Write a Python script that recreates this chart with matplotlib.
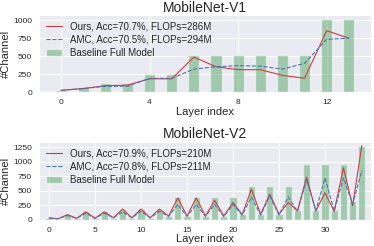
import numpy as np
import seaborn as sns
import matplotlib
matplotlib.use('Agg')
import matplotlib.pyplot as plt

# MobileNet-V1 channels per layer
v1_base = [32, 64, 128, 128, 256, 256, 512, 512, 512, 512, 512, 512, 1024, 1024]
v1_ours = [24, 48, 88, 96, 184, 184, 488, 352, 312, 312, 232, 192, 856, 752]
v1_amc = [24, 48, 80, 80, 192, 192, 320, 352, 368, 360, 320, 400, 736, 752]

# MobileNet-V2 channels per layer
v2_base = [32, 16, 96, 24, 144, 24, 144, 32, 192, 32, 192, 32, 192, 64, 384, 64, 384, 64,
           384, 64, 384, 96, 576, 96, 576, 96, 576, 160, 960, 160, 960, 160, 960, 320, 1280]
v2_ours = [32, 16, 88, 24, 136, 24, 136, 32, 184, 32, 184, 32, 184, 64, 376, 64, 376, 64,
           336, 64, 296, 88, 528, 96, 440, 96, 296, 152, 736, 152, 464, 144, 896, 240, 1280]
v2_amc = [24, 16, 72, 24, 112, 24, 112, 32, 136, 32, 144, 32, 144, 56, 264, 56, 264, 56,
          264, 56, 264, 80, 392, 80, 408, 80, 392, 144, 696, 152, 720, 152, 720, 272, 848]

sns.set_style('darkgrid')
plt.rcParams['font.family'] = ['Liberation Sans', 'DejaVu Sans']

fig = plt.figure(figsize=(3.74, 2.46), dpi=100)
ax1 = fig.add_axes([0.104, 0.626, 0.888, 0.313])
ax2 = fig.add_axes([0.104, 0.107, 0.888, 0.316])

panels = [
    (ax1, 'MobileNet-V1', v1_base, v1_ours, v1_amc, 0.5, (-1.0, 14.0),
     'Ours, Acc=70.7%, FLOPs=286M', 'AMC, Acc=70.5%, FLOPs=294M', [0, 4, 8, 12], [0, 250, 500, 750, 1000]),
    (ax2, 'MobileNet-V2', v2_base, v2_ours, v2_amc, 0.8, (-1.1, 35.0),
     'Ours, Acc=70.9%, FLOPs=210M', 'AMC, Acc=70.8%, FLOPs=211M', [0, 5, 10, 15, 20, 25, 30],
     [0, 250, 500, 750, 1000, 1250]),
]

for ax, title, base, ours, amc, w, xl, lab1, lab2, xt, yt in panels:
    x = np.arange(len(base))
    ax.plot(x, ours, color='#d03c3f', lw=0.8, label=lab1)
    ax.plot(x, amc, color='#4c72b0', lw=0.8, ls='--', label=lab2)
    ax.bar(x, base, width=w, color='#55a868', alpha=0.5, label='Baseline Full Model')
    ax.set_title(title, fontsize=10, pad=2.5)
    ax.set_xlabel('Layer index', fontsize=8, labelpad=0.5)
    ax.set_ylabel('#Channel', fontsize=8, labelpad=1.5)
    ax.set_xticks(xt)
    ax.set_yticks(yt)
    ax.set_xlim(*xl)
    ax.tick_params(labelsize=6, pad=1.5)
    ax.legend(loc='upper left', fontsize=7, frameon=False, handlelength=1.7, handletextpad=0.8,
              borderaxespad=0.3, labelspacing=0.3)

fig.savefig('out.png', dpi=100)
